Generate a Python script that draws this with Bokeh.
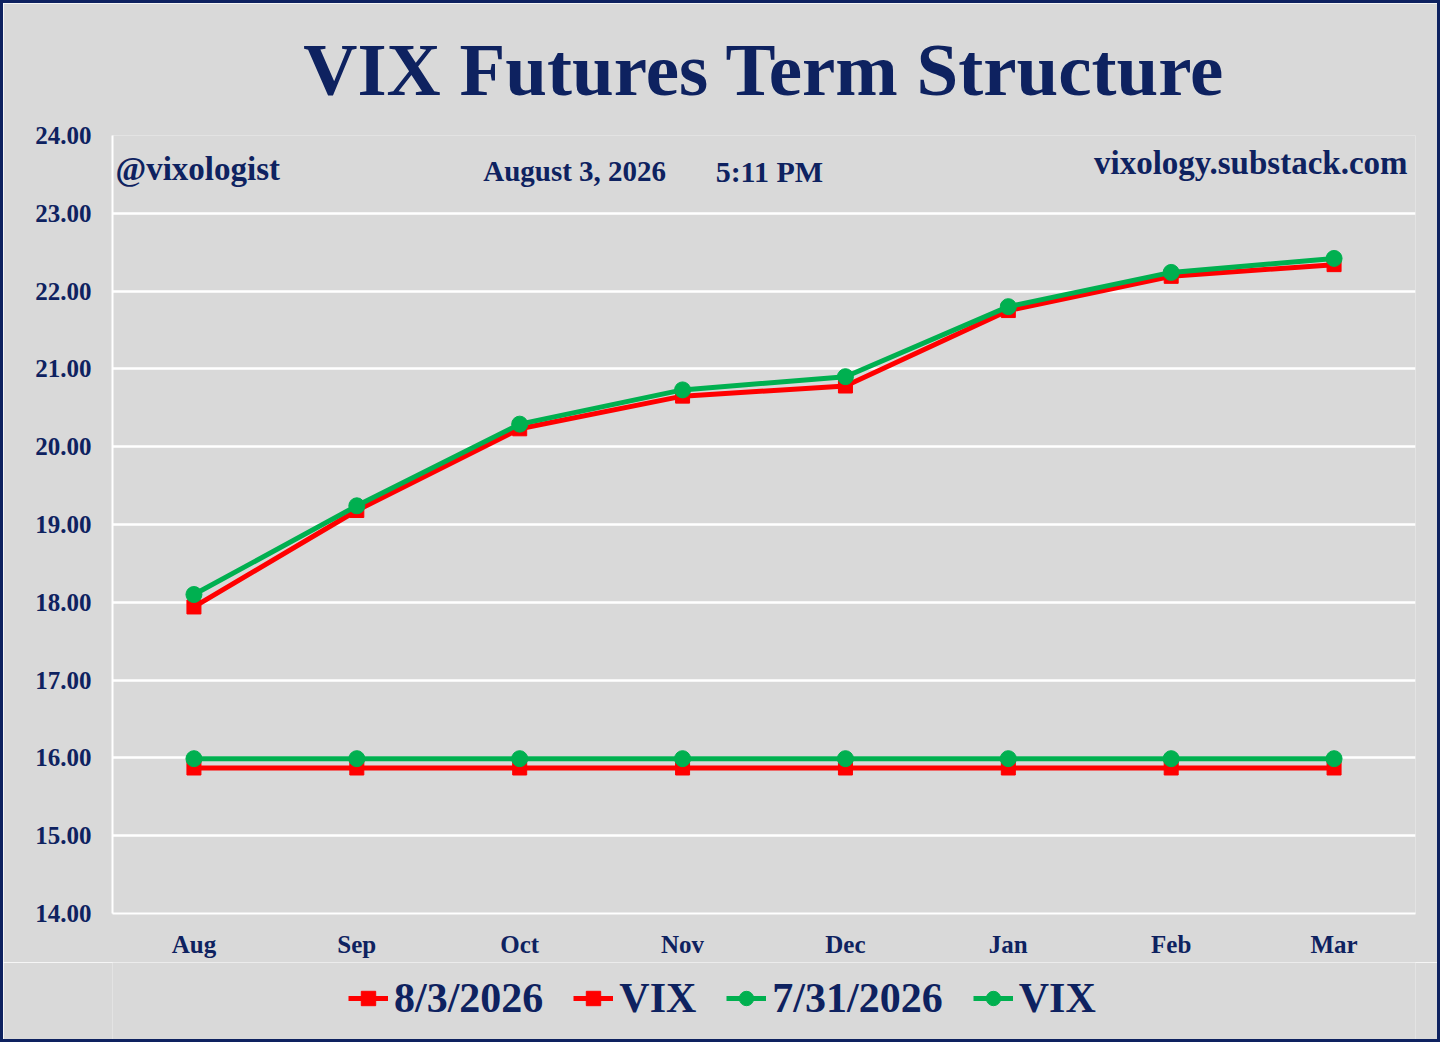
from bokeh.plotting import figure
from bokeh.layouts import column
from bokeh.models import (Legend, LegendItem, Label, Title, FixedTicker, NumeralTickFormatter,
                          Range1d, FactorRange)
from bokeh.embed import file_html
from bokeh.resources import INLINE

months = ["Aug", "Sep", "Oct", "Nov", "Dec", "Jan", "Feb", "Mar"]
fut_0803 = [17.94, 19.18, 20.23, 20.65, 20.78, 21.75, 22.19, 22.34]
vix_0803 = [15.87, 15.87, 15.87, 15.87, 15.87, 15.87, 15.87, 15.87]
fut_0731 = [18.10, 19.24, 20.29, 20.73, 20.90, 21.80, 22.24, 22.42]
vix_0731 = [15.99, 15.99, 15.99, 15.99, 15.99, 15.99, 15.99, 15.99]
y_ticks = [14, 15, 16, 17, 18, 19, 20, 21, 22, 23, 24]
title_text = "VIX Futures Term Structure"
handle_text = "@vixologist"
date_text = "August 3, 2026"
time_text = "5:11 PM"
site_text = "vixology.substack.com"
labels = ["8/3/2026", "VIX", "7/31/2026", "VIX"]

NAVY = "#0E2260"
RED = "#FF0000"
GREEN = "#00B050"
BG = "#D9D9D9"
FONT = "Liberation Serif"
BORDER = "3px solid " + NAVY

xr = FactorRange(*months)
p = figure(width=1440, height=962, x_range=xr, y_range=Range1d(14, 24),
           output_backend="svg", toolbar_location=None,
           min_border_left=109, min_border_right=28, min_border_top=132, min_border_bottom=52)
p.styles = {"border-top": BORDER, "border-left": BORDER, "border-right": BORDER, "box-sizing": "border-box"}
p.background_fill_color = BG
p.border_fill_color = BG
p.outline_line_color = None

p.title = Title(text=title_text, align="center", vertical_align="top", text_font=FONT,
                text_font_size="75px", text_font_style="bold", text_color=NAVY, standoff=46)

p.yaxis.ticker = FixedTicker(ticks=y_ticks)
p.yaxis.formatter = NumeralTickFormatter(format="0.00")
for ax in (p.xaxis[0], p.yaxis[0]):
    ax.axis_line_color = "white"
    ax.axis_line_width = 2
    ax.major_tick_line_color = None
    ax.minor_tick_line_color = None
    ax.major_tick_out = 0
    ax.major_tick_in = 0
    ax.minor_tick_out = 0
    ax.major_label_text_font = FONT
    ax.major_label_text_font_style = "bold"
    ax.major_label_text_font_size = "25px"
    ax.major_label_text_color = NAVY
p.yaxis.major_label_standoff = 21
p.xaxis.major_label_standoff = 17
p.xgrid.grid_line_color = None
p.ygrid.grid_line_color = "white"
p.ygrid.grid_line_width = 2.5

styles = [
    dict(line_color=RED, marker="square", size=14),
    dict(line_color=RED, marker="square", size=14),
    dict(line_color=GREEN, marker="circle", size=16),
    dict(line_color=GREEN, marker="circle", size=16),
]
series = [fut_0803, vix_0803, fut_0731, vix_0731]
for ys, st in zip(series, styles):
    p.line(months, ys, line_color=st["line_color"], line_width=5)
    p.scatter(months, ys, marker=st["marker"], size=st["size"],
              fill_color=st["line_color"], line_color=st["line_color"])

# legend strip: same series, drawn outside this strip's visible y range (only the legend shows)
q = figure(width=1440, height=80, output_backend="svg", toolbar_location=None,
           x_axis_type=None, y_axis_type=None, min_border=0,
           x_range=xr, y_range=Range1d(0, 1))
q.styles = {"border-bottom": BORDER, "border-left": BORDER, "border-right": BORDER, "box-sizing": "border-box"}
q.background_fill_color = BG
q.border_fill_color = BG
q.outline_line_color = None
q.grid.visible = False
items = []
for lab, ys, st in zip(labels, series, styles):
    rl = q.line(months, ys, line_color=st["line_color"], line_width=5)
    rm = q.scatter(months, ys, marker=st["marker"], size=st["size"],
                   fill_color=st["line_color"], line_color=st["line_color"])
    items.append(LegendItem(label=lab, renderers=[rl, rm]))
legend = Legend(items=items, orientation="horizontal", location=(236, 20),
                label_text_font=FONT, label_text_font_size="42px", label_text_font_style="bold",
                label_text_color=NAVY, glyph_width=40, glyph_height=36, label_standoff=6, spacing=30,
                background_fill_alpha=0, border_line_color=None, margin=0, padding=5)
q.add_layout(legend)

common = dict(text_font=FONT, text_font_style="bold", text_color=NAVY, text_baseline="middle")
p.add_layout(Label(x=0.018, y=23.57, text=handle_text, text_font_size="33px", **common))
p.add_layout(Label(x=2.276, y=23.54, text=date_text, text_font_size="29px", **common))
p.add_layout(Label(x=3.703, y=23.54, text=time_text, text_font_size="30px", **common))
p.add_layout(Label(x=7.951, y=23.65, text=site_text, text_font_size="33px", text_align="right", **common))

layout = column(p, q, spacing=0)
open("out.html", "w").write(file_html(layout, INLINE))
